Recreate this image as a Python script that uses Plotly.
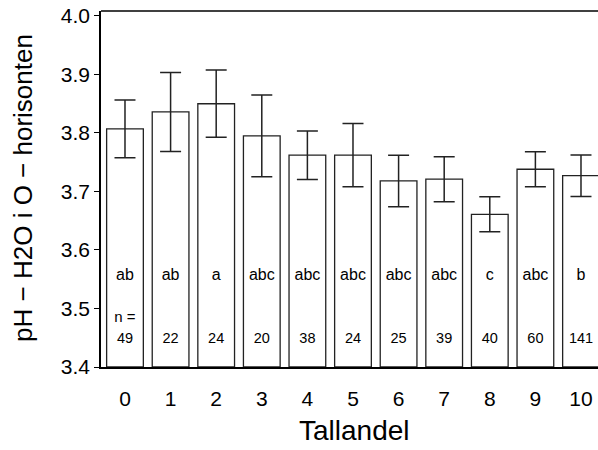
import plotly.graph_objects as go

categories = ["0", "1", "2", "3", "4", "5", "6", "7", "8", "9", "10"]
means = [3.807, 3.836, 3.850, 3.795, 3.762, 3.762, 3.718, 3.721, 3.661, 3.738, 3.727]
errors = [0.0495, 0.0675, 0.0575, 0.070, 0.0415, 0.054, 0.044, 0.0385, 0.030, 0.030, 0.0355]
letters = ["ab", "ab", "a", "abc", "abc", "abc", "abc", "abc", "c", "abc", "b"]
counts = [49, 22, 24, 20, 38, 24, 25, 39, 40, 60, 141]
y_ticks = [3.4, 3.5, 3.6, 3.7, 3.8, 3.9, 4.0]

xpos = list(range(len(categories)))
FONT = "Liberation Sans, Arial, Helvetica, sans-serif"

fig = go.Figure()
fig.add_trace(go.Bar(
    x=xpos, y=[m - 3.4 for m in means], base=3.4, width=0.805,
    marker=dict(color="white", line=dict(color="#222222", width=1.3)),
    error_y=dict(type="data", array=errors, visible=True, color="#222222",
                 thickness=1.5, width=10.5),
    showlegend=False, hoverinfo="skip",
))
fig.add_trace(go.Scatter(
    x=xpos, y=[3.5556] * len(xpos), mode="text", text=letters,
    textposition="middle center",
    textfont=dict(family=FONT, size=16, color="black"), showlegend=False,
))
fig.add_trace(go.Scatter(
    x=xpos, y=[3.448] * len(xpos), mode="text", text=[str(c) for c in counts],
    textposition="middle center",
    textfont=dict(family=FONT, size=14.5, color="black"), showlegend=False,
))
fig.add_trace(go.Scatter(
    x=[xpos[0]], y=[3.484], mode="text", text=["n ="],
    textposition="middle center",
    textfont=dict(family=FONT, size=15, color="black"), showlegend=False,
))

fig.update_layout(
    width=598, height=450,
    margin=dict(l=101, r=0, t=11, b=83),
    plot_bgcolor="white", paper_bgcolor="white",
    font=dict(family=FONT, color="black"),
    xaxis=dict(
        range=[-0.526, 10.373], tickmode="array", tickvals=xpos, ticktext=categories,
        showgrid=False, zeroline=False, showline=True, linecolor="black", linewidth=1.5,
        ticks="", ticklabelstandoff=12, tickfont=dict(size=21, family=FONT),
    ),
    yaxis=dict(
        range=[3.4, 4.0085], tickmode="array", tickvals=y_ticks,
        ticktext=[f"{v:.1f}" for v in y_ticks],
        showgrid=False, zeroline=False, showline=True, linecolor="black", linewidth=1.5,
        ticks="outside", ticklen=5, tickwidth=1.2, tickcolor="black",
        tickfont=dict(size=21, family=FONT),
    ),
    shapes=[dict(type="line", xref="paper", yref="paper", x0=0, x1=1, y0=1, y1=1,
                 line=dict(color="black", width=1.5))],
    annotations=[
        dict(text="Tallandel", xref="paper", yref="paper", x=0.511, y=-0.178,
             xanchor="center", yanchor="middle", showarrow=False,
             font=dict(size=28, family=FONT, color="black")),
        dict(text="pH \u2212 H2O i O \u2212 horisonten", xref="paper", yref="paper",
             x=-0.157, y=0.503, xanchor="center", yanchor="middle", textangle=-90,
             showarrow=False, font=dict(size=26, family=FONT, color="black")),
    ],
)

fig.write_html("out.html", config={"displayModeBar": False},
               post_script="document.body.style.margin='0';document.body.style.overflow='hidden';")
